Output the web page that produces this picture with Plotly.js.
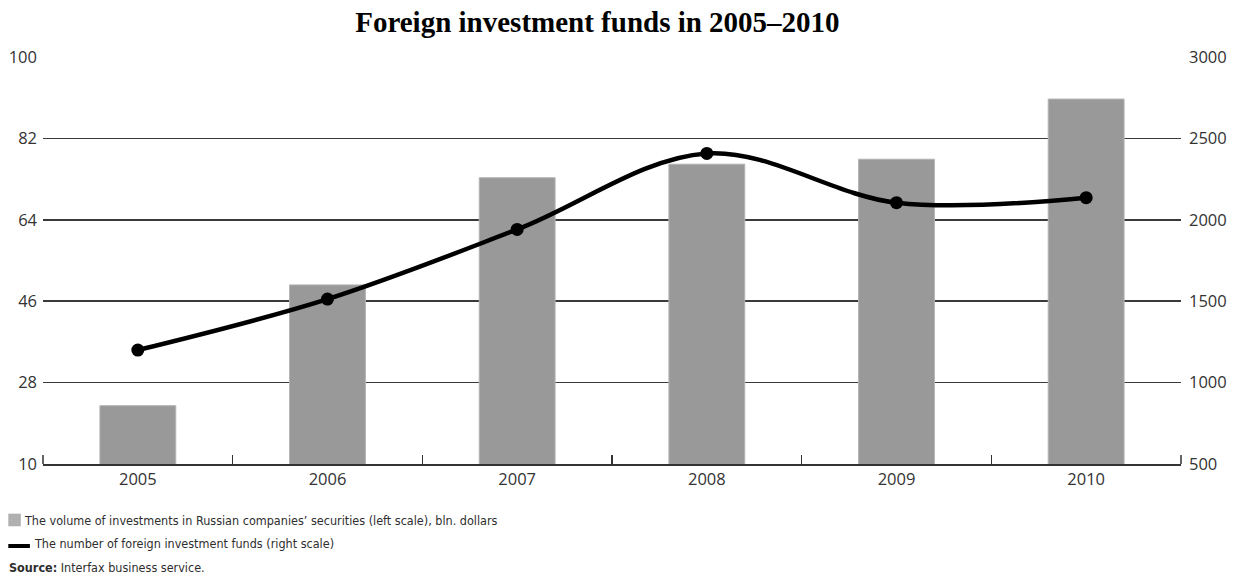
<!DOCTYPE html>
<html>
<head>
<meta charset="utf-8">
<script src="https://cdn.plot.ly/plotly-3.0.1.min.js"></script>
<style>
html,body{margin:0;padding:0;background:#fff;}
#chart{width:1242px;height:579px;}
</style>
</head>
<body>
<div id="chart"></div>
<script>
// Data
const years = ['2005', '2006', '2007', '2008', '2009', '2010'];
const investmentVolume = [22.9, 49.6, 73.3, 76.3, 77.4, 90.7];   // bln. dollars, left scale
const fundsCount = [1200, 1513, 1941, 2408, 2105, 2136];        // number of funds, right scale
const leftTicks = [10, 28, 46, 64, 82, 100];
const rightTicks = [500, 1000, 1500, 2000, 2500, 3000];

const titleText = 'Foreign investment funds in 2005–2010';
const barLegend = 'The volume of investments in Russian companies’ securities (left scale), bln. dollars';
const lineLegend = 'The number of foreign investment funds (right scale)';
const sourceText = '<b>Source:</b> Interfax business service.';

const tickFont = {family: 'Open Sans, Noto Sans, sans-serif', size: 16.5, color: '#333333'};
const noteFont = {family: 'DejaVu Sans Condensed, Roboto, sans-serif', size: 12.5, color: '#2e2e2e'};

const traces = [
  {
    type: 'bar', x: years, y: investmentVolume, yaxis: 'y',
    width: 0.4,
    marker: {color: '#999999', line: {color: '#b4b4b4', width: 1}},
    showlegend: false, hoverinfo: 'skip'
  },
  {
    type: 'scatter', mode: 'lines+markers', x: years, y: fundsCount, yaxis: 'y2',
    line: {color: '#000000', width: 4.5, shape: 'spline', smoothing: 1},
    marker: {color: '#000000', size: 13},
    showlegend: false, hoverinfo: 'skip'
  }
];

const edgeTick = 9 / 407;

const layout = {
  width: 1242, height: 579,
  paper_bgcolor: '#ffffff', plot_bgcolor: '#ffffff',
  margin: {l: 43, r: 61, t: 57, b: 115},
  showlegend: false,
  title: {
    text: '<b>' + titleText + '</b>',
    font: {family: 'Liberation Serif, Times New Roman, serif', size: 29, color: '#000000'},
    x: 0.481, xanchor: 'center', y: 0.962, yanchor: 'middle'
  },
  xaxis: {
    type: 'category',
    showgrid: false, zeroline: false,
    showline: true, linecolor: '#333333', linewidth: 1.5,
    ticks: 'inside', tickson: 'boundaries', ticklen: 9, tickcolor: '#333333', tickwidth: 1.5,
    tickfont: tickFont
  },
  yaxis: {
    range: [10, 100], tickvals: leftTicks, ticktext: leftTicks.map(String),
    showgrid: true, gridcolor: '#3a3a3a', gridwidth: 1.5,
    zeroline: false, showline: false, ticks: '',
    tickfont: tickFont, ticklabelstandoff: 5
  },
  yaxis2: {
    range: [500, 3000], tickvals: rightTicks, ticktext: rightTicks.map(String),
    overlaying: 'y', side: 'right',
    showgrid: false, zeroline: false, showline: false, ticks: '',
    tickfont: tickFont, ticklabelstandoff: 7
  },
  shapes: [
    {type: 'line', xref: 'paper', yref: 'paper', x0: 0, x1: 0, y0: 0, y1: edgeTick,
     line: {color: '#333333', width: 1.5}},
    {type: 'line', xref: 'paper', yref: 'paper', x0: 1, x1: 1, y0: 0, y1: edgeTick,
     line: {color: '#333333', width: 1.5}},
    {type: 'rect', xref: 'paper', yref: 'paper', x0: -0.0305, x1: -0.0195, y0: -0.122, y1: -0.153,
     fillcolor: '#b0b0b0', line: {width: 0}},
    {type: 'line', xref: 'paper', yref: 'paper', x0: -0.0305, x1: -0.0115, y0: -0.2015, y1: -0.2015,
     line: {color: '#000000', width: 4}}
  ],
  annotations: [
    {xref: 'paper', yref: 'paper', x: -0.0185, y: -0.139, xanchor: 'left', yanchor: 'middle',
     text: barLegend, showarrow: false, font: noteFont},
    {xref: 'paper', yref: 'paper', x: -0.0095, y: -0.1955, xanchor: 'left', yanchor: 'middle',
     text: lineLegend, showarrow: false, font: noteFont},
    {xref: 'paper', yref: 'paper', x: -0.032, y: -0.2555, xanchor: 'left', yanchor: 'middle',
     text: sourceText, showarrow: false, font: noteFont}
  ]
};

Plotly.newPlot('chart', traces, layout, {staticPlot: true, displayModeBar: false});
</script>
</body>
</html>
